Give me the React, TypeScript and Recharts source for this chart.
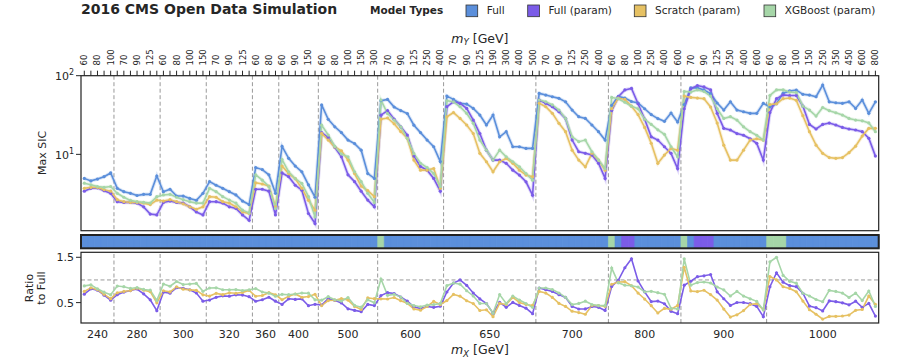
import React from 'react';
import { LineChart, Line, XAxis, YAxis, ReferenceLine, BarChart, Bar, Cell } from 'recharts';

// m_X groups and the m_Y points scanned inside each group
const mX = [240, 280, 300, 320, 360, 400, 500, 600, 650, 700, 800, 900, 1000];
const mY = [
  [60, 70, 80, 90, 100],
  [60, 70, 80, 90, 100, 125, 150],
  [60, 70, 80, 90, 100, 125, 150],
  [60, 70, 80, 90, 100, 125, 150],
  [60, 70, 80, 90],
  [60, 70, 90, 125, 150, 250],
  [60, 70, 80, 90, 100, 125, 150, 250, 300],
  [60, 70, 80, 90, 100, 125, 150, 250, 300, 400],
  [60, 70, 80, 90, 100, 125, 150, 190, 250, 300, 350, 400, 450, 500],
  [60, 70, 80, 90, 100, 125, 150, 250, 300, 400, 500],
  [60, 70, 80, 90, 100, 150, 250, 300, 400, 500, 600],
  [60, 70, 80, 90, 100, 125, 150, 250, 300, 400, 500, 600, 700],
  [60, 70, 80, 90, 100, 125, 150, 190, 250, 300, 350, 400, 450, 500, 600, 700, 800],
];

// max SIC per mass point, one line per m_X group
const full = [
  4.95, 4.6, 4.85, 5.2, 5.8,
  3.7, 3.35, 3.2, 3.0, 3.1, 3.1, 5.3,
  3.35, 3.6, 2.95, 2.95, 2.75, 2.6, 3.2,
  4.5, 4.05, 3.7, 3.35, 3.05, 2.55, 2.3,
  6.8, 6.4, 5.5, 3.2,
  12.6, 8.9, 7.1, 6.0, 4.1, 2.85,
  42.5, 27.9, 22.4, 18.9, 15.2, 13.7, 11.3, 5.7, 4.95,
  48, 50, 40, 36, 33, 23.5, 18.9, 15.2, 12.5, 8.1,
  55, 50, 44.5, 43.6, 38.4, 31.6, 23.6, 31.6, 16.7, 19.4, 12.5, 12.5, 11.9, 11.9,
  59.6, 56.7, 54, 51.5, 46.6, 36.6, 30.1, 28.6, 23.6, 19.4, 15.2,
  42, 54.5, 52, 47, 45, 38, 32, 28.5, 26.3, 33.5, 25.8,
  43, 70, 70, 66, 59, 45, 36.6, 46.6, 36.6, 34.8, 33.2, 33.2, 44.5,
  40, 44, 60, 64, 65.7, 58, 56.7, 54, 76, 46.6, 45.3, 44.5, 46.6, 38.4, 49, 33.2, 46.6,
];

const fullParam = [
  3.4, 3.7, 3.75, 3.45, 3.2,
  2.5, 2.45, 2.45, 2.4, 2.15, 1.74, 1.7,
  2.45, 2.55, 2.45, 2.4, 2.15, 1.85, 1.7,
  2.5, 2.5, 2.4, 2.15, 2.05, 1.7, 1.45,
  3.6, 3.6, 3.4, 1.7,
  5.8, 5.2, 4.05, 3.5, 1.77, 1.32,
  18.9, 16.4, 12.3, 9.3, 5.5, 4.5, 3.4, 2.62, 2.15,
  31.5, 36, 28, 22.4, 17.6, 9.5, 7.0, 6.3, 4.95, 3.4,
  40.4, 46.6, 44.5, 38.4, 27.3, 18.4, 11.3, 8.45, 8.45, 7.7, 6.3, 5.45, 4.48, 3.03,
  49, 44.5, 40.3, 34.8, 28.6, 15.2, 10.8, 10.3, 9.8, 7.7, 4.95,
  36, 54, 66, 69, 44, 28, 16.7, 15.2, 12.5, 10.3, 6.6,
  38, 68, 75, 72, 66, 33.2, 21.4, 20.4, 18.4, 17.5, 15.8, 13.8, 8.45,
  34, 51, 57, 56, 56, 41, 24, 21, 24, 25, 23.6, 22, 21, 20.4, 19.4, 16, 9.5,
];

const scratchParam = [
  3.7, 3.8, 3.8, 3.55, 3.4,
  2.65, 2.5, 2.45, 2.45, 2.4, 2.3, 2.62,
  2.55, 2.65, 2.5, 2.35, 2.15, 2.0, 2.15,
  2.9, 2.85, 2.5, 2.4, 2.15, 1.85, 1.77,
  4.35, 4.2, 3.95, 2.15,
  7.1, 5.7, 4.9, 3.7, 2.6, 1.95,
  18.5, 15.2, 12.4, 11.1, 8.45, 5.7, 3.95, 3.45, 2.9,
  28, 29, 24.5, 19.5, 16, 8.45, 6.3, 6.3, 6.6, 3.7,
  30, 34, 28.6, 23.6, 18.4, 10.3, 8.05, 6.0, 8.05, 8.9, 7.7, 6.3, 5.45, 5.2,
  44.5, 40.3, 33.2, 24.8, 19.4, 11.3, 8.45, 6.95, 10.3, 8.45, 6.3,
  38, 52, 50, 41, 32, 22, 13.8, 7.7, 9.8, 11.9, 11.3,
  55, 53, 52, 51, 40, 25, 13.1, 8.45, 8.45, 11.3, 15.2, 15.8, 15.2,
  43, 44, 51, 52, 48.6, 31, 19.4, 13.1, 10.3, 9.1, 8.9, 9.1, 10.5, 12.7, 17.1, 21.4, 21.4,
];

const xgbParam = [
  4.3, 4.1, 3.9, 3.8, 3.9,
  3.2, 2.85, 2.6, 2.5, 2.45, 2.4, 2.9,
  3.05, 3.1, 2.85, 2.65, 2.5, 2.4, 2.4,
  3.7, 3.35, 2.9, 2.62, 2.4, 1.95, 1.8,
  5.5, 4.7, 3.9, 2.05,
  8.6, 6.0, 4.9, 4.27, 2.9, 1.6,
  23.5, 17.6, 12.6, 10.1, 9.3, 6.0, 4.5, 3.2, 2.45,
  49, 33, 27.3, 22.4, 16, 10.2, 7.7, 6.8, 5.7, 3.9,
  48, 46.6, 40.3, 33.2, 24.8, 15.2, 11.3, 8.45, 11.3, 9.3, 8.05, 6.95, 5.7, 4.7,
  49, 46.6, 42.5, 36.6, 28.6, 16.7, 14.5, 15.2, 10.8, 8.45, 6.6,
  53, 51, 46, 41, 38, 28, 24, 20.5, 18, 12.5, 9.3,
  63, 62, 66, 63, 55, 38, 28.6, 30.1, 27.3, 22.4, 19.4, 17.5, 15.2,
  56, 66, 66, 62, 61, 41, 36.6, 30.7, 39.4, 35.9, 33.8, 31.6, 28.6, 27.3, 26.7, 25.1, 19.4,
];

const models = [
  { key: 'full', name: 'Full', color: '#5b8fdb' },
  { key: 'fullParam', name: 'Full (param)', color: '#7b5ce8' },
  { key: 'scratchParam', name: 'Scratch (param)', color: '#e6c163' },
  { key: 'xgbParam', name: 'XGBoost (param)', color: '#a6d6a8' },
];
const colorOf: Record<string, string> = Object.fromEntries(models.map((m) => [m.key, m.color]));

// flat table, one row per (m_X, m_Y) point
const rows: any[] = [];
const groupStart: number[] = [];
mY.forEach((ys, g) => {
  groupStart.push(rows.length);
  ys.forEach((y) => {
    const i = rows.length;
    rows.push({
      i,
      mX: mX[g],
      mY: y,
      full: full[i],
      fullParam: fullParam[i],
      scratchParam: scratchParam[i],
      xgbParam: xgbParam[i],
      one: 1,
    });
  });
});
const N = rows.length;
rows.forEach((r) => {
  // ratio to the Full model and best model per point
  r.rFullParam = r.fullParam / r.full;
  r.rScratchParam = r.scratchParam / r.full;
  r.rXgbParam = r.xgbParam / r.full;
  r.best = models.reduce((b, m) => (r[m.key] > r[b.key] ? m : b), models[0]).key;
});

const allIdx = rows.map((r) => r.i);
const bounds = groupStart.slice(1).map((s) => s - 0.5);
const centers = groupStart.map((s, g) => (s + (g + 1 < groupStart.length ? groupStart[g + 1] : N) - 1) / 2);

const W = 897;
const PL = 81;
const PR = 878.7;
const FONT = "'DejaVu Sans', sans-serif";
const INK = '#262626';

const TopTick = (props: any) => {
  const { x, payload } = props;
  const idx = payload.value;
  if (idx % 2 !== 0) return <g />;
  return (
    <text transform={`translate(${x},65.5) rotate(-90)`} textAnchor="start" dominantBaseline="central"
      fontSize={8.5} fill={INK} fontFamily={FONT}>
      {rows[idx].mY}
    </text>
  );
};

const LogTick = (props: any) => {
  const { y, payload } = props;
  const exp = Math.round(Math.log10(payload.value));
  return (
    <text x={PL - 7} y={y} dy="0.4em" textAnchor="end" fontSize={11} fill={INK} fontFamily={FONT}>
      <tspan>10</tspan>
      <tspan dy="-0.6em" fontSize={8}>{exp}</tspan>
    </text>
  );
};

const RatioTick = (props: any) => {
  const { y, payload } = props;
  return (
    <text x={PL - 7} y={y} dy="0.36em" textAnchor="end" fontSize={11} fill={INK} fontFamily={FONT}>
      {payload.value.toFixed(1)}
    </text>
  );
};

const BottomTick = (props: any) => {
  const { x, payload } = props;
  const g = centers.indexOf(payload.value);
  return (
    <text x={x} y={98} textAnchor="middle" fontSize={11} fill={INK} fontFamily={FONT}>
      {mX[g]}
    </text>
  );
};

const App: React.FC = () => {
  return (
    <div style={{ position: 'absolute', left: 0, top: 0, width: W, height: 359, background: '#fff', fontFamily: FONT }}>
      {/* main panel: max SIC, log scale */}
      <div style={{ position: 'absolute', left: 0, top: 0 }}>
        <LineChart width={W} height={236} data={rows} margin={{ top: 45.7, right: W - PR, bottom: 5.3, left: PL - 40 }}>
          <XAxis dataKey="i" type="number" orientation="top" domain={[-0.5, N - 0.5]} allowDataOverflow
            ticks={allIdx} interval={0} tickSize={5} height={30} axisLine={false}
            tickLine={{ stroke: INK }} tick={TopTick} />
          <YAxis type="number" scale="log" domain={[1.07, 100]} allowDataOverflow ticks={[10, 100]}
            width={40} axisLine={false} tickSize={5} tickLine={{ stroke: INK }} tick={LogTick} />
          {bounds.map((b) => (
            <ReferenceLine key={`v${b}`} x={b} stroke="#999" strokeWidth={1} strokeDasharray="4 2.5" />
          ))}
          {models.map((m) => (
            <Line key={`${m.key}-halo`} dataKey={m.key} type="linear" stroke={m.color} strokeOpacity={0.22}
              strokeWidth={3.6} dot={false} activeDot={false} isAnimationActive={false} />
          ))}
          {models.map((m) => (
            <Line key={m.key} dataKey={m.key} type="linear" stroke={m.color} strokeWidth={1.6}
              dot={{ r: 1.6, fill: m.color, stroke: m.color, strokeWidth: 0 }} activeDot={false}
              isAnimationActive={false} />
          ))}
        </LineChart>
      </div>

      {/* best model strip */}
      <div style={{ position: 'absolute', left: 0, top: 232 }}>
        <BarChart width={W} height={20} data={rows} margin={{ top: 3, right: W - PR, bottom: 3.7, left: PL }}
          barCategoryGap={0} barGap={0}>
          <XAxis dataKey="i" hide height={0} />
          <YAxis hide domain={[0, 1]} width={0} />
          <Bar dataKey="one" isAnimationActive={false}>
            {rows.map((r) => (
              <Cell key={`c${r.i}`} fill={colorOf[r.best]} stroke={colorOf[r.best]} strokeWidth={0.6} />
            ))}
          </Bar>
        </BarChart>
      </div>

      {/* ratio panel */}
      <div style={{ position: 'absolute', left: 0, top: 240 }}>
        <LineChart width={W} height={119} data={rows} margin={{ top: 12.3, right: W - PR, bottom: 6, left: PL - 40 }}>
          <XAxis dataKey="i" type="number" domain={[-0.5, N - 0.5]} allowDataOverflow ticks={centers}
            interval={0} tickSize={0} height={30} axisLine={false} tickLine={false} tick={BottomTick} />
          <YAxis type="number" domain={[0.05, 1.61]} allowDataOverflow ticks={[0.5, 1.0, 1.5]}
            width={40} axisLine={false} tickSize={5} tickLine={{ stroke: INK }} tick={RatioTick} />
          <ReferenceLine y={1} stroke="#999" strokeWidth={1} strokeDasharray="4 2.5" />
          {bounds.map((b) => (
            <ReferenceLine key={`rv${b}`} x={b} stroke="#999" strokeWidth={1} strokeDasharray="4 2.5" />
          ))}
          {[
            { key: 'rFullParam', color: colorOf.fullParam },
            { key: 'rScratchParam', color: colorOf.scratchParam },
            { key: 'rXgbParam', color: colorOf.xgbParam },
          ].map((s) => (
            <Line key={s.key} dataKey={s.key} type="linear" stroke={s.color} strokeWidth={1.6}
              dot={{ r: 1.6, fill: s.color, stroke: s.color, strokeWidth: 0 }} activeDot={false}
              isAnimationActive={false} />
          ))}
        </LineChart>
      </div>

      {/* titles, legend and frames */}
      <svg width={W} height={359} style={{ position: 'absolute', left: 0, top: 0, pointerEvents: 'none' }}>
        <text x={81} y={14.2} fontSize={14} fontWeight="bold" fill={INK}>2016 CMS Open Data Simulation</text>
        <text x={370} y={14.3} fontSize={10.5} fontWeight="bold" fill={INK}>Model Types</text>
        {models.map((m, k) => {
          const sq = [466, 527.7, 634.3, 764][k];
          return (
            <g key={`lg${m.key}`}>
              <rect x={sq} y={5} width={11.7} height={11.7} fill={m.color} stroke="#333" strokeWidth={0.8} />
              <text x={sq + 20.7} y={14.2} fontSize={10.5} fill={INK}>{m.name}</text>
            </g>
          );
        })}

        <text x={(PL + PR) / 2} y={42.5} textAnchor="middle" fontSize={12.5} fill={INK}>
          <tspan fontStyle="italic">m</tspan>
          <tspan fontStyle="italic" fontSize={8.8} dy={2.5}>Y</tspan>
          <tspan dy={-2.5}> [GeV]</tspan>
        </text>
        <text x={(PL + PR) / 2} y={354} textAnchor="middle" fontSize={12.5} fill={INK}>
          <tspan fontStyle="italic">m</tspan>
          <tspan fontStyle="italic" fontSize={8.8} dy={2.5}>X</tspan>
          <tspan dy={-2.5}> [GeV]</tspan>
        </text>

        <text transform="translate(42,153) rotate(-90)" textAnchor="middle" dominantBaseline="central"
          fontSize={11} fill={INK}>Max SIC</text>
        <text transform="translate(29,288) rotate(-90)" textAnchor="middle" dominantBaseline="central"
          fontSize={11} fill={INK}>Ratio</text>
        <text transform="translate(41,288) rotate(-90)" textAnchor="middle" dominantBaseline="central"
          fontSize={11} fill={INK}>to Full</text>

        <rect x={PL} y={75.7} width={PR - PL} height={155} fill="none" stroke="#222" strokeWidth={1.2} />
        <rect x={PL} y={235} width={PR - PL} height={13.3} fill="none" stroke="#222" strokeWidth={2} />
        <rect x={PL} y={252.3} width={PR - PL} height={70.7} fill="none" stroke="#222" strokeWidth={1.2} />
      </svg>
    </div>
  );
};

export default App;
